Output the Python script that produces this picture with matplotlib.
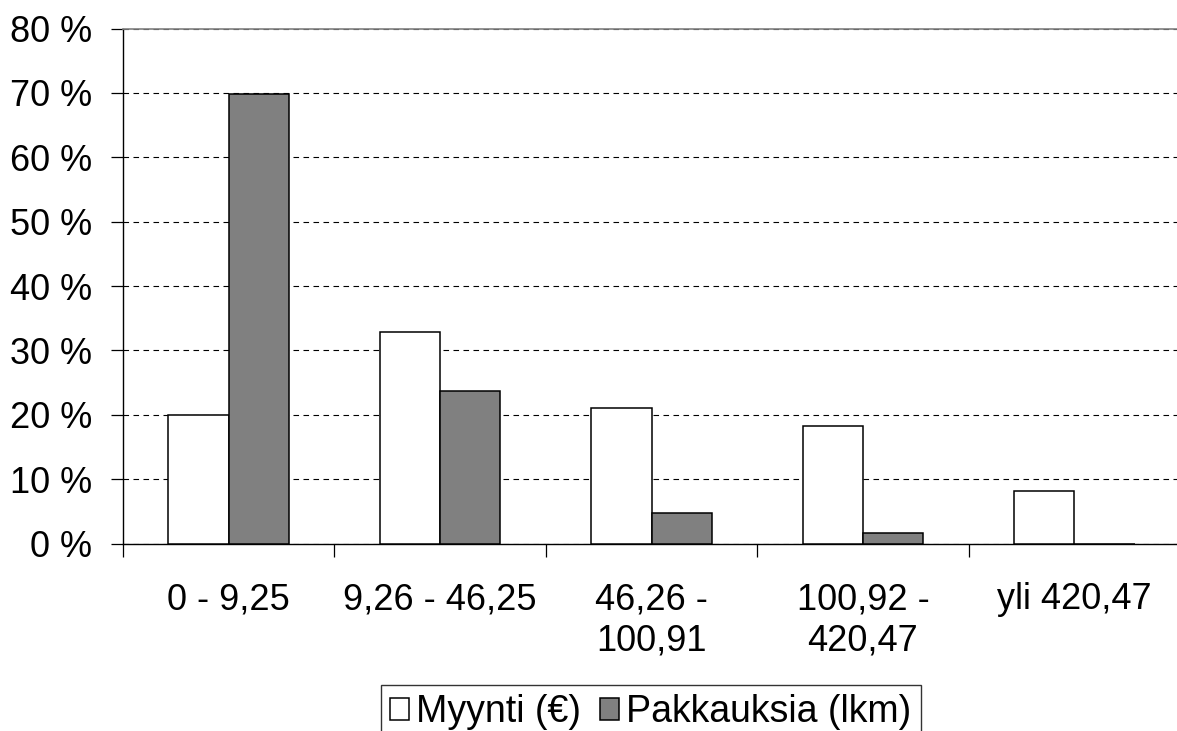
import numpy as np
import matplotlib.pyplot as plt

plt.rcParams['font.family'] = ['Liberation Sans', 'DejaVu Sans']

categories = ['0 - 9,25', '9,26 - 46,25', '46,26 -\n100,91', '100,92 -\n420,47', 'yli 420,47']
myynti = [19.9, 32.8, 21.0, 18.3, 8.2]
pakkauksia = [69.9, 23.7, 4.8, 1.7, 0.0]
yticks = [0, 10, 20, 30, 40, 50, 60, 70, 80]

fs = 26
fig = plt.figure(figsize=(11.77, 7.31), dpi=100)
ax = fig.add_axes([123 / 1177, 187.5 / 731, 1057 / 1177, 515 / 731])

x = np.arange(len(categories))
w = 0.285
ax.bar(x - w / 2, myynti, w, color='white', edgecolor='black', linewidth=1.1,
       label='Myynti (€)', zorder=3)
ax.bar(x + w / 2, pakkauksia, w, color='#808080', edgecolor='black', linewidth=1.1,
       label='Pakkauksia (lkm)', zorder=3)

ax.set_xlim(-0.5, len(categories) - 0.5)
ax.set_ylim(0, 80)
ax.set_yticks(yticks)
ax.set_yticklabels([f'{v} %' for v in yticks], fontsize=fs)
ax.yaxis.grid(True, color='black', linestyle=(0, (5, 4)), linewidth=0.8, zorder=1)

# category boundaries as ticks, names centred between them
ax.set_xticks(np.arange(len(categories) + 1) - 0.5)
ax.set_xticklabels([])
ax.set_xticks(x, minor=True)
ax.set_xticklabels(categories, minor=True, fontsize=fs, linespacing=1.22)
ax.tick_params(axis='x', which='minor', length=0, pad=28)
ax.tick_params(axis='x', which='major', length=9, width=0.9, direction='out')
ax.tick_params(axis='y', length=9, width=0.9, direction='out', pad=13)

ax.spines['right'].set_visible(False)
ax.spines['top'].set_color('#808080')
ax.spines['top'].set_linewidth(1.2)
for s in ['left', 'bottom']:
    ax.spines[s].set_linewidth(1.0)

leg = fig.legend(loc='upper center', bbox_to_anchor=(651 / 1177, 1 - 685 / 731), ncol=2,
                 fontsize=27, frameon=True, fancybox=False, edgecolor='black',
                 handlelength=0.5, handleheight=0.5, handletextpad=0.2,
                 columnspacing=0.5, borderpad=0.25, borderaxespad=0)
leg.get_frame().set_linewidth(1.0)

fig.savefig('out.png', dpi=100)
